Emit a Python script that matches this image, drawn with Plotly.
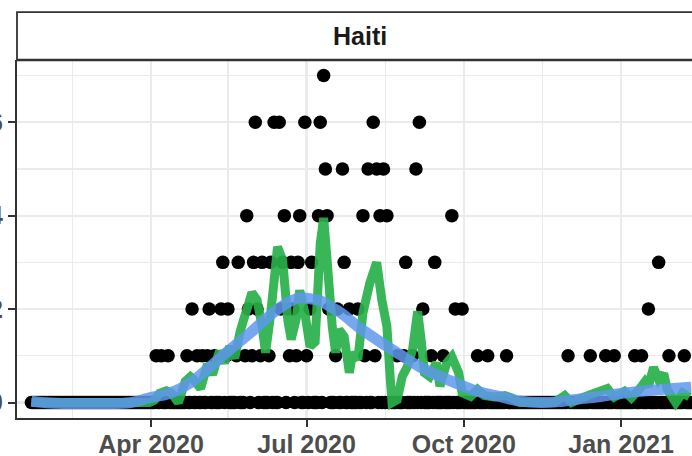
import pandas as pd
import plotly.graph_objects as go

# ---------------- data ----------------
start_date = "2020-01-22"

# daily new deaths, one value per day starting 2020-01-22
daily_deaths = [
    0, 0, 0, 0, 0, 0, 0, 0, 0, 0,
    0, 0, 0, 0, 0, 0, 0, 0, 0, 0,
    0, 0, 0, 0, 0, 0, 0, 0, 0, 0,
    0, 0, 0, 0, 0, 0, 0, 0, 0, 0,
    0, 0, 0, 0, 0, 0, 0, 0, 0, 0,
    0, 0, 0, 0, 0, 0, 0, 0, 0, 0,
    0, 0, 0, 0, 0, 0, 0, 0, 0, 0,
    0, 0, 0, 1, 0, 0, 1, 0, 0, 0,   # day 70
    1, 0, 0, 0, 0, 0, 0, 0, 0, 0,   # day 80
    0, 1, 0, 0, 2, 0, 0, 1, 0, 0,   # day 90
    1, 0, 0, 1, 2, 0, 0, 1, 0, 0,   # day 100
    0, 2, 3, 0, 1, 2, 0, 0, 0, 0,   # day 110
    1, 3, 0, 0, 0, 1, 4, 2, 0, 1,   # day 120
    3, 6, 2, 0, 1, 3, 0, 0, 0, 1,   # day 130
    3, 0, 6, 0, 0, 6, 2, 3, 4, 0,   # day 140
    2, 1, 3, 2, 0, 1, 3, 4, 0, 0,   # day 150
    6, 1, 0, 2, 3, 0, 0, 0, 4, 6,   # day 160
    0, 7, 5, 4, 2, 0, 0, 0, 1, 2,   # day 170
    0, 0, 5, 3, 0, 0, 2, 0, 0, 0,   # day 180
    0, 2, 0, 0, 4, 1, 0, 5, 0, 0,   # day 190
    6, 1, 5, 0, 4, 0, 5, 0, 4, 0,   # day 200
    0, 0, 0, 0, 1, 0, 0, 0, 1, 3,   # day 210
    0, 0, 0, 1, 0, 5, 0, 6, 0, 2,   # day 220
    0, 0, 0, 0, 1, 0, 3, 0, 0, 0,   # day 230
    0, 1, 0, 0, 0, 0, 4, 0, 2, 0,   # day 240
    0, 0, 2, 0, 0, 0, 0, 0, 0, 0,   # day 250
    0, 1, 0, 0, 0, 0, 0, 1, 0, 0,   # day 260
    0, 0, 0, 0, 0, 0, 0, 0, 1, 0,   # day 270
    0, 0, 0, 0, 0, 0, 0, 0, 0, 0,   # day 280
    0, 0, 0, 0, 0, 0, 0, 0, 0, 0,   # day 290
    0, 0, 0, 0, 0, 0, 0, 0, 0, 0,   # day 300
    0, 0, 0, 0, 1, 0, 0, 0, 0, 0,   # day 310
    0, 0, 0, 0, 0, 0, 0, 1, 0, 0,   # day 320
    0, 0, 0, 0, 0, 0, 1, 0, 0, 0,   # day 330
    0, 1, 0, 0, 0, 0, 0, 0, 0, 0,   # day 340
    0, 0, 0, 1, 0, 0, 0, 1, 0, 0,   # day 350
    0, 2, 0, 0, 0, 0, 0, 3, 0, 0,   # day 360
    0, 0, 0, 1, 0, 0, 0, 0, 0, 0,   # day 370
    0, 0, 1, 0, 0, 0, 0,            # day 380
]

# rolling-average line (green), day offset from start_date -> value
green_day = [0, 40, 69, 72, 75, 79, 82, 86, 90, 93, 96, 99, 103, 106, 110, 113, 116, 119,
             122, 124, 127, 129, 132, 135, 137, 140, 142, 144, 147, 150, 152, 155, 157,
             160, 163, 166, 169, 171, 173, 176, 178, 180, 183, 186, 188, 191, 194, 198,
             202, 205, 208, 210, 211, 214, 217, 220, 223, 226, 228, 230, 233, 237, 239,
             243, 246, 250, 252, 257, 261, 265, 271, 277, 281, 286, 306, 312, 316, 322,
             327, 333, 337, 341, 347, 351, 356, 359, 361, 364, 367, 370, 372, 377, 381, 385]
green_val = [0, 0, 0, 0.05, 0.2, 0.25, 0.2, 0.0, 0.45, 0.55, 0.45, 0.3, 0.82, 0.6, 1.1, 0.85,
             1.2, 0.95, 1.5, 1.75, 2.1, 2.35, 2.2, 1.63, 1.07, 1.9, 2.6, 3.33, 3.05, 1.77,
             1.35, 1.8, 2.4, 1.92, 1.2, 1.3, 3.4, 3.95, 3.05, 1.63, 1.07, 1.56, 1.41, 0.64,
             1.07, 0.92, 1.92, 2.56, 3.0, 2.2, 1.63, 0.49, 0.0, 0.06, 0.56, 0.77, 1.13, 1.95,
             1.35, 0.64, 0.56, 0.85, 0.35, 0.85, 0.98, 0.64, 0.21, 0.13, 0.28, 0.15, 0.12,
             0.15, 0.1, 0.0, 0.0, 0.15, 0.0, 0.1, 0.17, 0.25, 0.3, 0.12, 0.24, 0.1, 0.3,
             0.45, 0.35, 0.75, 0.49, 0.62, 0.28, 0.0, 0.21, 0.12]

# smooth trend (blue)
blue_day = [0, 11, 40, 58, 69, 81, 93, 104, 116, 128, 140, 151, 157, 163, 169, 175, 181,
            192, 204, 216, 227, 239, 251, 262, 274, 286, 298, 309, 321, 333, 344, 356, 368,
            382, 386]
blue_val = [0.03, -0.01, -0.02, 0.0, 0.1, 0.2, 0.42, 0.75, 1.13, 1.49, 1.88, 2.16, 2.24,
            2.22, 2.18, 2.05, 1.92, 1.6, 1.3, 1.02, 0.77, 0.56, 0.38, 0.23, 0.13, 0.03,
            0.0, 0.02, 0.08, 0.13, 0.19, 0.24, 0.28, 0.32, 0.33]

facet_label = "Haiti"
x_tick_dates = ["2020-01-01", "2020-04-01", "2020-07-01", "2020-10-01", "2021-01-01"]
x_minor_dates = ["2020-02-15", "2020-05-16", "2020-08-16", "2020-11-16", "2021-02-15"]
y_ticks = [0, 2, 4, 6]
y_minor = [1, 3, 5, 7]

# ---------------- build ----------------
t0 = pd.Timestamp(start_date)
dates = pd.date_range(start_date, periods=len(daily_deaths), freq="D")
green_dates = [t0 + pd.Timedelta(days=d) for d in green_day]
blue_dates = [t0 + pd.Timedelta(days=d) for d in blue_day]

FONT = "Liberation Sans, Arial, Helvetica, sans-serif"

fig = go.Figure()
fig.add_trace(go.Scatter(
    x=dates, y=daily_deaths, mode="markers",
    marker=dict(color="black", size=13.5, line=dict(width=0)),
    showlegend=False, hoverinfo="skip"))
fig.add_trace(go.Scatter(
    x=green_dates, y=green_val, mode="lines",
    line=dict(color="#27B04A", width=9, simplify=False),
    opacity=0.92, showlegend=False, hoverinfo="skip"))
fig.add_trace(go.Scatter(
    x=blue_dates, y=blue_val, mode="lines", line_shape="spline",
    line=dict(color="#5E98EC", width=11),
    opacity=0.85, showlegend=False, hoverinfo="skip"))

axis_common = dict(
    showline=True, linecolor="#333333", linewidth=2, mirror=False,
    ticks="outside", ticklen=7, tickwidth=2, tickcolor="#333333",
    showgrid=True, gridcolor="#EBEBEB", gridwidth=2.2,
    zeroline=False, automargin=False,
    tickfont=dict(family=FONT, size=25, color="#4D4D4D", weight="bold"),
)

fig.update_layout(
    template="none",
    width=692, height=456,
    margin=dict(l=17, r=0, t=60, b=38),
    paper_bgcolor="white", plot_bgcolor="white",
    showlegend=False,
    xaxis=dict(
        type="date",
        range=["2020-01-13 14:00", "2021-02-11 12:00"],
        tickvals=x_tick_dates, tickformat="%b %Y",
        ticklabelstandoff=-4,
        minor=dict(tickvals=x_minor_dates, showgrid=True, gridcolor="#EBEBEB", gridwidth=1.2),
        **axis_common,
    ),
    yaxis=dict(
        range=[-0.33, 7.33],
        tickvals=y_ticks, ticktext=[str(v) for v in y_ticks],
        minor=dict(tickvals=y_minor, showgrid=True, gridcolor="#EBEBEB", gridwidth=1.2),
        **axis_common,
    ),
)

# facet strip
fig.add_shape(type="rect", xref="paper", yref="paper",
              x0=0, x1=1.05, y0=1.0, y1=1.134,
              line=dict(color="#333333", width=1.8), fillcolor="white", layer="above")
fig.add_shape(type="line", xref="paper", yref="paper",
              x0=0, x1=1.05, y0=1.0, y1=1.0,
              line=dict(color="#333333", width=2.4), layer="above")
fig.add_annotation(text=facet_label, xref="paper", yref="paper",
                   x=0.508, y=1.067, xanchor="center", yanchor="middle",
                   showarrow=False,
                   font=dict(family=FONT, size=25, color="#1A1A1A", weight="bold"))

fig.write_html("out.html",
               config={"displayModeBar": False, "staticPlot": True},
               post_script="document.body.style.margin='0';document.body.style.overflow='hidden';")
